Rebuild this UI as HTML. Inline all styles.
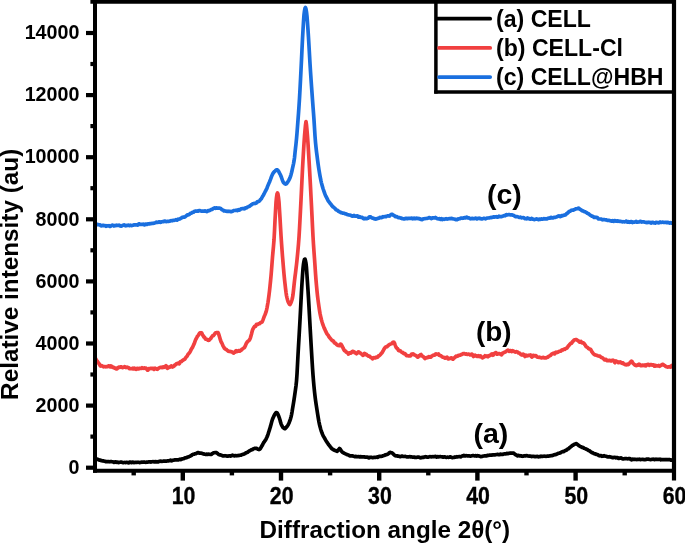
<!DOCTYPE html>
<html><head><meta charset="utf-8"><title>XRD</title>
<style>html,body{margin:0;padding:0;background:#fff;overflow:hidden}svg{display:block;filter:blur(0.45px)}text{font-family:"Liberation Sans",Arial,sans-serif;font-weight:bold;fill:#000}</style></head><body>
<svg width="685" height="543" viewBox="0 0 685 543">
<rect width="685" height="543" fill="#fff"/>
<g fill="none" stroke-width="3.7" stroke-linejoin="round" stroke-linecap="butt">
<path d="M95.0,458.8 L95.5,458.7 L96.0,458.7 L96.5,458.9 L97.0,459.1 L97.5,459.2 L98.0,459.5 L98.5,459.7 L99.0,459.8 L99.5,460.1 L100.0,460.2 L100.5,460.2 L101.0,460.3 L101.5,460.7 L102.0,460.8 L102.5,460.8 L103.0,460.8 L103.5,460.9 L104.0,461.1 L104.5,461.2 L105.0,461.3 L105.5,461.5 L106.0,461.7 L106.5,461.7 L107.0,461.7 L107.5,461.6 L108.0,461.5 L108.5,461.5 L109.0,461.7 L109.5,461.8 L110.0,461.7 L110.5,461.6 L111.0,461.6 L111.5,461.6 L112.0,461.7 L112.5,461.8 L113.0,461.8 L113.5,462.1 L114.0,462.4 L114.5,462.3 L115.0,462.0 L115.5,461.8 L116.0,462.0 L116.5,462.3 L117.0,462.2 L117.5,462.1 L118.0,462.3 L118.5,462.6 L119.0,462.4 L119.5,462.4 L120.0,462.3 L120.5,462.1 L121.0,462.0 L121.5,462.1 L122.0,462.3 L122.5,462.5 L123.0,462.6 L123.5,462.6 L124.0,462.5 L124.5,462.5 L125.0,462.4 L125.5,462.6 L126.0,462.5 L126.5,462.4 L127.0,462.4 L127.5,462.5 L128.0,462.7 L128.5,462.9 L129.0,462.8 L129.5,462.2 L130.0,462.0 L130.5,462.2 L131.0,462.5 L131.5,462.6 L132.0,462.3 L132.5,462.0 L133.0,462.2 L133.5,462.5 L134.0,462.6 L134.5,462.5 L135.0,462.4 L135.5,462.3 L136.0,462.4 L136.5,462.4 L137.0,462.4 L137.5,462.3 L138.0,462.2 L138.5,462.3 L139.0,462.4 L139.5,462.6 L140.0,462.6 L140.5,462.4 L141.0,462.2 L141.5,462.1 L142.0,462.3 L142.5,462.2 L143.0,462.2 L143.5,462.1 L144.0,462.1 L144.5,462.2 L145.0,462.2 L145.5,462.3 L146.0,462.3 L146.5,462.1 L147.0,462.0 L147.5,462.1 L148.0,462.1 L148.5,461.9 L149.0,461.9 L149.5,461.9 L150.0,461.8 L150.5,462.0 L151.0,462.1 L151.5,461.9 L152.0,461.8 L152.5,461.7 L153.0,461.6 L153.5,461.7 L154.0,461.9 L154.5,462.0 L155.0,461.7 L155.5,461.7 L156.0,462.0 L156.5,462.0 L157.0,461.6 L157.5,461.8 L158.0,462.0 L158.5,461.6 L159.0,461.4 L159.5,461.5 L160.0,461.4 L160.5,461.2 L161.0,461.2 L161.5,461.4 L162.0,461.4 L162.5,461.3 L163.0,461.2 L163.5,461.1 L164.0,461.2 L164.5,461.1 L165.0,461.0 L165.5,461.0 L166.0,461.2 L166.5,461.1 L167.0,461.0 L167.5,460.9 L168.0,460.9 L168.5,460.9 L169.0,460.8 L169.5,460.7 L170.0,460.4 L170.5,460.2 L171.0,460.7 L171.5,460.9 L172.0,460.7 L172.5,460.4 L173.0,460.3 L173.5,460.2 L174.0,460.1 L174.5,459.9 L175.0,459.9 L175.5,459.9 L176.0,459.9 L176.5,459.9 L177.0,459.9 L177.5,459.9 L178.0,459.9 L178.5,459.9 L179.0,459.8 L179.5,459.3 L180.0,459.2 L180.5,459.6 L181.0,459.6 L181.5,459.2 L182.0,458.9 L182.5,458.9 L183.0,458.8 L183.5,458.7 L184.0,458.5 L184.5,458.2 L185.0,457.9 L185.5,457.9 L186.0,457.9 L186.5,457.7 L187.0,457.4 L187.5,457.1 L188.0,457.0 L188.5,456.9 L189.0,456.6 L189.5,456.4 L190.0,456.2 L190.5,455.9 L191.0,455.7 L191.5,455.4 L192.0,454.9 L192.5,454.5 L193.0,454.4 L193.5,454.3 L194.0,454.2 L194.5,454.0 L195.0,453.8 L195.5,453.6 L196.0,453.6 L196.5,453.5 L197.0,453.0 L197.5,452.6 L198.0,452.6 L198.5,452.6 L199.0,452.9 L199.5,453.2 L200.0,453.1 L200.5,453.0 L201.0,453.2 L201.5,453.2 L202.0,453.3 L202.5,453.6 L203.0,453.8 L203.5,453.8 L204.0,454.0 L204.5,454.2 L205.0,454.3 L205.5,454.4 L206.0,454.4 L206.5,454.2 L207.0,454.2 L207.5,454.5 L208.0,454.4 L208.5,454.2 L209.0,454.2 L209.5,454.3 L210.0,454.4 L210.5,454.5 L211.0,454.5 L211.5,454.3 L212.0,453.9 L212.5,453.4 L213.0,453.2 L213.5,452.9 L214.0,452.8 L214.5,452.7 L215.0,452.6 L215.5,452.5 L216.0,452.5 L216.5,452.6 L217.0,453.0 L217.5,453.5 L218.0,453.9 L218.5,454.3 L219.0,454.6 L219.5,454.8 L220.0,454.8 L220.5,454.9 L221.0,455.0 L221.5,455.4 L222.0,455.6 L222.5,455.6 L223.0,455.9 L223.5,456.0 L224.0,455.8 L224.5,455.8 L225.0,455.7 L225.5,455.8 L226.0,455.9 L226.5,456.0 L227.0,456.1 L227.5,456.2 L228.0,456.1 L228.5,456.0 L229.0,455.9 L229.5,455.8 L230.0,455.9 L230.5,456.1 L231.0,456.0 L231.5,455.7 L232.0,455.4 L232.5,455.2 L233.0,455.4 L233.5,455.7 L234.0,455.8 L234.5,455.8 L235.0,455.5 L235.5,455.5 L236.0,455.7 L236.5,455.8 L237.0,455.7 L237.5,455.6 L238.0,455.6 L238.5,455.5 L239.0,455.4 L239.5,455.4 L240.0,455.3 L240.5,455.2 L241.0,455.1 L241.5,454.8 L242.0,454.6 L242.5,454.5 L243.0,454.4 L243.5,454.2 L244.0,453.8 L244.5,453.8 L245.0,453.6 L245.5,453.1 L246.0,452.8 L246.5,452.6 L247.0,452.5 L247.5,452.4 L248.0,451.9 L248.5,451.5 L249.0,451.2 L249.5,450.9 L250.0,450.6 L250.5,450.4 L251.0,450.0 L251.5,449.8 L252.0,449.7 L252.5,449.5 L253.0,449.1 L253.5,448.8 L254.0,448.6 L254.5,448.4 L255.0,448.3 L255.5,448.3 L256.0,448.3 L256.5,448.4 L257.0,448.7 L257.5,449.0 L258.0,449.2 L258.5,449.4 L259.0,449.6 L259.5,449.4 L260.0,449.0 L260.5,448.3 L261.0,447.4 L261.5,446.6 L262.0,445.8 L262.5,444.8 L263.0,443.8 L263.5,442.9 L264.0,442.2 L264.5,441.4 L265.0,440.8 L265.5,440.0 L266.0,439.1 L266.5,438.1 L267.0,437.0 L267.5,435.8 L268.0,434.4 L268.5,432.8 L269.0,431.2 L269.5,429.6 L270.0,428.0 L270.5,426.4 L271.0,424.5 L271.5,422.6 L272.0,420.8 L272.5,419.2 L273.0,418.0 L273.5,416.9 L274.0,415.8 L274.5,414.8 L275.0,414.0 L275.5,413.3 L276.0,412.7 L276.5,412.5 L277.0,412.8 L277.5,413.6 L278.0,414.5 L278.5,415.7 L279.0,417.0 L279.5,418.4 L280.0,420.1 L280.5,421.9 L281.0,423.6 L281.5,424.9 L282.0,425.8 L282.5,426.7 L283.0,427.5 L283.5,427.9 L284.0,428.2 L284.5,428.6 L285.0,428.7 L285.5,428.2 L286.0,427.6 L286.5,427.1 L287.0,426.5 L287.5,425.8 L288.0,425.0 L288.5,424.1 L289.0,423.0 L289.5,421.7 L290.0,420.3 L290.5,418.8 L291.0,417.0 L291.5,414.8 L292.0,412.1 L292.5,409.0 L293.0,406.0 L293.5,403.0 L294.0,399.9 L294.5,396.5 L295.0,393.0 L295.5,389.5 L296.0,385.8 L296.5,381.1 L297.0,374.2 L297.5,364.6 L298.0,355.0 L298.5,346.2 L299.0,337.6 L299.5,328.9 L300.0,320.0 L300.5,310.6 L301.0,300.8 L301.5,291.3 L302.0,283.0 L302.5,275.4 L303.0,268.5 L303.5,264.0 L304.0,261.2 L304.5,259.2 L305.0,259.1 L305.5,260.8 L306.0,263.4 L306.5,268.0 L307.0,275.5 L307.5,282.9 L308.0,290.3 L308.5,298.3 L309.0,307.2 L309.5,316.4 L310.0,325.3 L310.5,334.2 L311.0,342.9 L311.5,351.4 L312.0,359.9 L312.5,367.9 L313.0,375.0 L313.5,381.1 L314.0,386.6 L314.5,391.6 L315.0,396.0 L315.5,399.9 L316.0,403.5 L316.5,406.8 L317.0,410.0 L317.5,413.2 L318.0,416.4 L318.5,419.4 L319.0,422.1 L319.5,424.5 L320.0,426.5 L320.5,428.4 L321.0,430.1 L321.5,431.6 L322.0,433.0 L322.5,434.2 L323.0,435.3 L323.5,436.3 L324.0,437.2 L324.5,438.1 L325.0,438.9 L325.5,439.8 L326.0,440.7 L326.5,441.5 L327.0,442.2 L327.5,443.0 L328.0,443.7 L328.5,444.5 L329.0,445.1 L329.5,445.7 L330.0,446.4 L330.5,447.0 L331.0,447.7 L331.5,448.4 L332.0,448.8 L332.5,449.1 L333.0,449.3 L333.5,449.6 L334.0,450.1 L334.5,450.3 L335.0,450.5 L335.5,450.6 L336.0,450.7 L336.5,451.1 L337.0,451.3 L337.5,451.0 L338.0,450.4 L338.5,449.7 L339.0,449.1 L339.5,448.5 L340.0,448.8 L340.5,449.5 L341.0,450.5 L341.5,451.3 L342.0,451.8 L342.5,452.2 L343.0,452.6 L343.5,452.8 L344.0,453.1 L344.5,453.4 L345.0,453.6 L345.5,453.9 L346.0,454.1 L346.5,454.3 L347.0,454.6 L347.5,454.8 L348.0,454.9 L348.5,455.1 L349.0,455.3 L349.5,455.6 L350.0,455.9 L350.5,455.9 L351.0,455.8 L351.5,455.8 L352.0,456.0 L352.5,455.9 L353.0,456.0 L353.5,456.2 L354.0,456.4 L354.5,456.6 L355.0,456.6 L355.5,456.3 L356.0,456.5 L356.5,456.7 L357.0,456.8 L357.5,456.7 L358.0,456.7 L358.5,456.5 L359.0,456.7 L359.5,457.0 L360.0,456.9 L360.5,456.6 L361.0,456.6 L361.5,456.8 L362.0,456.8 L362.5,456.8 L363.0,457.0 L363.5,456.9 L364.0,456.8 L364.5,457.0 L365.0,457.1 L365.5,457.0 L366.0,457.1 L366.5,457.2 L367.0,457.0 L367.5,457.0 L368.0,457.4 L368.5,457.8 L369.0,457.8 L369.5,457.5 L370.0,457.3 L370.5,457.4 L371.0,457.5 L371.5,457.4 L372.0,457.5 L372.5,457.6 L373.0,457.6 L373.5,457.5 L374.0,457.4 L374.5,457.3 L375.0,457.4 L375.5,457.3 L376.0,457.3 L376.5,457.1 L377.0,457.0 L377.5,457.4 L378.0,457.1 L378.5,456.6 L379.0,456.4 L379.5,456.4 L380.0,456.4 L380.5,456.4 L381.0,456.4 L381.5,456.4 L382.0,456.2 L382.5,456.0 L383.0,455.8 L383.5,455.6 L384.0,455.5 L384.5,455.5 L385.0,455.2 L385.5,454.8 L386.0,454.6 L386.5,454.6 L387.0,454.5 L387.5,454.3 L388.0,454.0 L388.5,453.6 L389.0,453.1 L389.5,452.6 L390.0,452.4 L390.5,452.4 L391.0,452.6 L391.5,452.8 L392.0,452.9 L392.5,453.3 L393.0,453.8 L393.5,454.2 L394.0,454.7 L394.5,455.2 L395.0,455.5 L395.5,455.8 L396.0,455.9 L396.5,455.8 L397.0,455.8 L397.5,456.0 L398.0,456.2 L398.5,456.1 L399.0,456.2 L399.5,456.5 L400.0,456.6 L400.5,456.6 L401.0,456.5 L401.5,456.2 L402.0,456.0 L402.5,456.2 L403.0,456.5 L403.5,456.5 L404.0,456.5 L404.5,456.5 L405.0,456.4 L405.5,456.4 L406.0,456.6 L406.5,456.8 L407.0,456.8 L407.5,456.9 L408.0,456.9 L408.5,456.9 L409.0,456.8 L409.5,456.6 L410.0,456.6 L410.5,456.9 L411.0,457.0 L411.5,456.9 L412.0,457.0 L412.5,457.1 L413.0,457.1 L413.5,457.1 L414.0,457.0 L414.5,457.1 L415.0,457.5 L415.5,457.4 L416.0,457.3 L416.5,457.3 L417.0,457.3 L417.5,457.2 L418.0,457.0 L418.5,457.0 L419.0,457.2 L419.5,457.4 L420.0,457.7 L420.5,457.8 L421.0,457.8 L421.5,457.7 L422.0,457.4 L422.5,457.4 L423.0,457.5 L423.5,457.4 L424.0,457.1 L424.5,457.0 L425.0,456.9 L425.5,456.7 L426.0,456.8 L426.5,457.0 L427.0,457.1 L427.5,457.0 L428.0,457.0 L428.5,457.1 L429.0,456.9 L429.5,456.7 L430.0,456.6 L430.5,456.7 L431.0,456.9 L431.5,456.9 L432.0,456.7 L432.5,456.7 L433.0,456.8 L433.5,456.7 L434.0,456.7 L434.5,456.7 L435.0,456.6 L435.5,456.4 L436.0,456.5 L436.5,457.1 L437.0,457.0 L437.5,456.6 L438.0,456.6 L438.5,456.9 L439.0,456.9 L439.5,456.7 L440.0,456.6 L440.5,456.6 L441.0,456.7 L441.5,456.8 L442.0,456.8 L442.5,456.9 L443.0,457.2 L443.5,457.1 L444.0,456.9 L444.5,456.8 L445.0,457.0 L445.5,457.2 L446.0,457.4 L446.5,457.4 L447.0,457.3 L447.5,457.1 L448.0,457.2 L448.5,457.4 L449.0,457.3 L449.5,457.0 L450.0,456.9 L450.5,456.9 L451.0,457.2 L451.5,457.4 L452.0,457.6 L452.5,457.6 L453.0,457.5 L453.5,457.5 L454.0,457.4 L454.5,457.1 L455.0,456.9 L455.5,457.1 L456.0,457.1 L456.5,456.9 L457.0,456.7 L457.5,456.8 L458.0,456.8 L458.5,456.7 L459.0,456.6 L459.5,456.7 L460.0,456.7 L460.5,456.8 L461.0,456.8 L461.5,456.3 L462.0,456.0 L462.5,455.9 L463.0,456.0 L463.5,455.7 L464.0,455.4 L464.5,455.6 L465.0,456.0 L465.5,456.0 L466.0,455.7 L466.5,455.7 L467.0,455.8 L467.5,455.8 L468.0,455.9 L468.5,456.0 L469.0,455.9 L469.5,455.9 L470.0,456.1 L470.5,456.1 L471.0,456.0 L471.5,455.9 L472.0,455.8 L472.5,455.7 L473.0,455.5 L473.5,455.6 L474.0,455.7 L474.5,455.9 L475.0,456.0 L475.5,455.6 L476.0,455.7 L476.5,456.1 L477.0,455.9 L477.5,455.6 L478.0,455.9 L478.5,456.0 L479.0,455.9 L479.5,456.1 L480.0,456.4 L480.5,456.6 L481.0,456.6 L481.5,456.5 L482.0,456.5 L482.5,456.3 L483.0,456.0 L483.5,456.0 L484.0,456.0 L484.5,455.9 L485.0,455.9 L485.5,455.8 L486.0,455.7 L486.5,455.9 L487.0,455.8 L487.5,455.4 L488.0,455.3 L488.5,455.4 L489.0,455.4 L489.5,455.2 L490.0,455.0 L490.5,455.1 L491.0,455.2 L491.5,455.2 L492.0,455.1 L492.5,454.9 L493.0,454.9 L493.5,454.9 L494.0,454.9 L494.5,454.8 L495.0,454.9 L495.5,454.8 L496.0,454.5 L496.5,454.5 L497.0,454.5 L497.5,454.4 L498.0,454.5 L498.5,454.7 L499.0,454.7 L499.5,454.6 L500.0,454.3 L500.5,454.1 L501.0,454.2 L501.5,454.3 L502.0,454.5 L502.5,454.5 L503.0,454.3 L503.5,454.1 L504.0,453.9 L504.5,453.9 L505.0,454.0 L505.5,454.0 L506.0,453.8 L506.5,453.5 L507.0,453.4 L507.5,453.5 L508.0,453.6 L508.5,453.5 L509.0,453.3 L509.5,453.2 L510.0,453.2 L510.5,453.2 L511.0,453.1 L511.5,453.1 L512.0,453.1 L512.5,453.1 L513.0,453.0 L513.5,453.1 L514.0,453.4 L514.5,453.9 L515.0,454.3 L515.5,454.7 L516.0,455.0 L516.5,455.1 L517.0,455.5 L517.5,455.8 L518.0,455.5 L518.5,455.3 L519.0,455.6 L519.5,455.8 L520.0,455.8 L520.5,455.7 L521.0,455.8 L521.5,456.0 L522.0,456.2 L522.5,456.3 L523.0,456.2 L523.5,456.0 L524.0,455.9 L524.5,455.8 L525.0,455.7 L525.5,455.9 L526.0,455.9 L526.5,455.7 L527.0,455.7 L527.5,455.9 L528.0,456.0 L528.5,456.0 L529.0,456.1 L529.5,456.2 L530.0,456.2 L530.5,456.1 L531.0,456.4 L531.5,456.6 L532.0,456.4 L532.5,456.4 L533.0,456.4 L533.5,456.3 L534.0,456.4 L534.5,456.6 L535.0,456.6 L535.5,456.7 L536.0,456.6 L536.5,456.5 L537.0,456.4 L537.5,456.4 L538.0,456.6 L538.5,456.9 L539.0,456.7 L539.5,456.5 L540.0,456.6 L540.5,456.3 L541.0,456.1 L541.5,456.3 L542.0,456.4 L542.5,456.4 L543.0,456.3 L543.5,456.2 L544.0,456.3 L544.5,456.2 L545.0,456.2 L545.5,456.3 L546.0,456.4 L546.5,456.3 L547.0,456.1 L547.5,456.1 L548.0,456.2 L548.5,456.1 L549.0,456.1 L549.5,455.9 L550.0,455.9 L550.5,455.8 L551.0,455.5 L551.5,455.5 L552.0,455.6 L552.5,455.5 L553.0,455.3 L553.5,455.1 L554.0,454.8 L554.5,454.7 L555.0,454.7 L555.5,454.6 L556.0,454.5 L556.5,454.3 L557.0,453.9 L557.5,453.7 L558.0,453.5 L558.5,453.3 L559.0,453.2 L559.5,453.1 L560.0,453.0 L560.5,452.8 L561.0,452.4 L561.5,452.1 L562.0,451.9 L562.5,451.6 L563.0,451.7 L563.5,451.6 L564.0,451.3 L564.5,451.0 L565.0,450.7 L565.5,450.5 L566.0,450.3 L566.5,450.1 L567.0,449.6 L567.5,449.1 L568.0,448.9 L568.5,448.8 L569.0,448.4 L569.5,447.8 L570.0,447.4 L570.5,447.0 L571.0,446.6 L571.5,446.2 L572.0,445.7 L572.5,445.4 L573.0,445.2 L573.5,444.8 L574.0,444.5 L574.5,444.3 L575.0,444.0 L575.5,443.9 L576.0,443.7 L576.5,443.7 L577.0,444.1 L577.5,444.5 L578.0,444.9 L578.5,445.3 L579.0,445.7 L579.5,446.0 L580.0,446.4 L580.5,446.6 L581.0,446.7 L581.5,446.9 L582.0,447.4 L582.5,447.5 L583.0,447.4 L583.5,447.8 L584.0,448.2 L584.5,448.4 L585.0,448.6 L585.5,448.8 L586.0,449.0 L586.5,449.3 L587.0,449.5 L587.5,449.7 L588.0,450.1 L588.5,450.4 L589.0,450.5 L589.5,450.8 L590.0,451.2 L590.5,451.6 L591.0,452.0 L591.5,452.4 L592.0,452.7 L592.5,452.8 L593.0,452.9 L593.5,453.3 L594.0,453.6 L594.5,453.8 L595.0,453.8 L595.5,453.9 L596.0,454.3 L596.5,454.5 L597.0,454.5 L597.5,454.6 L598.0,454.9 L598.5,455.3 L599.0,455.6 L599.5,455.8 L600.0,455.7 L600.5,455.5 L601.0,455.6 L601.5,456.1 L602.0,456.3 L602.5,456.2 L603.0,456.1 L603.5,455.8 L604.0,455.7 L604.5,455.9 L605.0,456.1 L605.5,456.2 L606.0,456.3 L606.5,456.4 L607.0,456.7 L607.5,456.9 L608.0,456.9 L608.5,457.0 L609.0,456.8 L609.5,456.7 L610.0,456.9 L610.5,457.0 L611.0,457.1 L611.5,457.2 L612.0,457.3 L612.5,457.6 L613.0,457.7 L613.5,457.5 L614.0,457.4 L614.5,457.4 L615.0,457.3 L615.5,457.6 L616.0,457.9 L616.5,457.7 L617.0,457.5 L617.5,457.6 L618.0,458.1 L618.5,458.4 L619.0,458.4 L619.5,458.1 L620.0,458.0 L620.5,458.0 L621.0,457.9 L621.5,458.2 L622.0,458.6 L622.5,458.8 L623.0,458.8 L623.5,458.8 L624.0,458.8 L624.5,458.6 L625.0,458.6 L625.5,458.7 L626.0,458.7 L626.5,458.7 L627.0,458.7 L627.5,458.8 L628.0,458.8 L628.5,458.6 L629.0,458.7 L629.5,458.6 L630.0,458.6 L630.5,459.1 L631.0,459.6 L631.5,459.8 L632.0,459.5 L632.5,459.2 L633.0,459.4 L633.5,459.3 L634.0,459.1 L634.5,459.3 L635.0,459.5 L635.5,459.4 L636.0,459.4 L636.5,459.5 L637.0,459.6 L637.5,459.4 L638.0,459.3 L638.5,459.4 L639.0,459.3 L639.5,459.2 L640.0,459.5 L640.5,459.6 L641.0,459.5 L641.5,459.5 L642.0,459.4 L642.5,459.3 L643.0,459.4 L643.5,459.5 L644.0,459.6 L644.5,459.5 L645.0,459.6 L645.5,459.6 L646.0,459.2 L646.5,459.1 L647.0,459.3 L647.5,459.2 L648.0,459.0 L648.5,459.1 L649.0,459.3 L649.5,459.5 L650.0,459.5 L650.5,459.6 L651.0,459.6 L651.5,459.4 L652.0,459.4 L652.5,459.3 L653.0,459.1 L653.5,459.2 L654.0,459.5 L654.5,459.6 L655.0,459.5 L655.5,459.3 L656.0,459.1 L656.5,459.3 L657.0,459.5 L657.5,459.4 L658.0,459.3 L658.5,459.4 L659.0,459.5 L659.5,459.3 L660.0,459.1 L660.5,459.5 L661.0,459.8 L661.5,459.7 L662.0,459.5 L662.5,459.5 L663.0,459.5 L663.5,459.6 L664.0,459.6 L664.5,459.6 L665.0,459.5 L665.5,459.6 L666.0,459.7 L666.5,459.6 L667.0,459.5 L667.5,459.6 L668.0,459.6 L668.5,459.5 L669.0,459.6 L669.5,459.7 L670.0,459.7 L670.5,459.8 L671.0,460.1 L671.5,460.2 L672.0,460.1 L672.5,460.0 L673.0,460.0" stroke="#000"/>
<path d="M95.0,357.9 L95.5,358.5 L96.0,359.3 L96.5,360.2 L97.0,360.7 L97.5,361.5 L98.0,362.4 L98.5,363.0 L99.0,363.6 L99.5,364.3 L100.0,365.3 L100.5,366.0 L101.0,365.7 L101.5,365.5 L102.0,365.9 L102.5,366.1 L103.0,366.5 L103.5,366.9 L104.0,366.7 L104.5,366.5 L105.0,366.6 L105.5,366.8 L106.0,366.9 L106.5,366.5 L107.0,366.6 L107.5,366.6 L108.0,366.3 L108.5,365.9 L109.0,365.8 L109.5,366.1 L110.0,366.8 L110.5,366.8 L111.0,365.9 L111.5,366.1 L112.0,367.0 L112.5,367.4 L113.0,367.3 L113.5,367.2 L114.0,367.7 L114.5,368.1 L115.0,368.3 L115.5,368.2 L116.0,368.1 L116.5,368.9 L117.0,368.9 L117.5,368.2 L118.0,367.8 L118.5,367.4 L119.0,367.0 L119.5,367.1 L120.0,367.4 L120.5,367.0 L121.0,366.8 L121.5,367.0 L122.0,367.5 L122.5,367.6 L123.0,367.3 L123.5,367.4 L124.0,367.2 L124.5,366.6 L125.0,366.9 L125.5,367.4 L126.0,367.6 L126.5,367.4 L127.0,367.1 L127.5,367.4 L128.0,367.5 L128.5,367.5 L129.0,368.3 L129.5,368.6 L130.0,368.5 L130.5,368.7 L131.0,368.7 L131.5,368.5 L132.0,368.7 L132.5,368.8 L133.0,368.2 L133.5,368.5 L134.0,368.8 L134.5,368.2 L135.0,368.4 L135.5,369.0 L136.0,369.4 L136.5,369.3 L137.0,368.5 L137.5,368.3 L138.0,369.0 L138.5,369.0 L139.0,368.4 L139.5,368.4 L140.0,368.5 L140.5,368.4 L141.0,368.5 L141.5,368.3 L142.0,367.8 L142.5,368.2 L143.0,368.4 L143.5,368.3 L144.0,368.1 L144.5,367.8 L145.0,368.4 L145.5,368.6 L146.0,368.2 L146.5,368.5 L147.0,369.1 L147.5,370.1 L148.0,370.2 L148.5,369.3 L149.0,368.6 L149.5,368.5 L150.0,368.6 L150.5,368.5 L151.0,368.3 L151.5,368.5 L152.0,368.6 L152.5,368.5 L153.0,368.3 L153.5,368.9 L154.0,369.4 L154.5,368.5 L155.0,368.1 L155.5,368.6 L156.0,368.7 L156.5,368.8 L157.0,369.2 L157.5,369.3 L158.0,368.8 L158.5,368.3 L159.0,368.1 L159.5,367.7 L160.0,367.5 L160.5,367.4 L161.0,367.3 L161.5,367.5 L162.0,367.6 L162.5,367.3 L163.0,366.9 L163.5,367.2 L164.0,367.4 L164.5,366.8 L165.0,366.3 L165.5,366.2 L166.0,365.7 L166.5,366.3 L167.0,368.0 L167.5,368.4 L168.0,367.7 L168.5,367.2 L169.0,367.1 L169.5,367.3 L170.0,367.1 L170.5,366.8 L171.0,366.2 L171.5,365.9 L172.0,366.5 L172.5,367.0 L173.0,366.7 L173.5,366.5 L174.0,366.2 L174.5,365.4 L175.0,364.9 L175.5,364.8 L176.0,364.2 L176.5,363.6 L177.0,363.6 L177.5,363.6 L178.0,363.2 L178.5,363.5 L179.0,363.9 L179.5,363.4 L180.0,362.3 L180.5,361.5 L181.0,361.5 L181.5,361.5 L182.0,360.9 L182.5,360.5 L183.0,360.3 L183.5,359.9 L184.0,359.5 L184.5,359.4 L185.0,358.9 L185.5,358.0 L186.0,357.3 L186.5,356.8 L187.0,356.3 L187.5,355.4 L188.0,354.4 L188.5,353.8 L189.0,353.3 L189.5,352.7 L190.0,352.0 L190.5,351.0 L191.0,349.8 L191.5,348.8 L192.0,348.1 L192.5,347.4 L193.0,346.3 L193.5,345.2 L194.0,344.2 L194.5,342.8 L195.0,341.4 L195.5,340.1 L196.0,339.0 L196.5,338.1 L197.0,337.2 L197.5,336.2 L198.0,335.7 L198.5,335.0 L199.0,334.1 L199.5,333.4 L200.0,332.9 L200.5,332.8 L201.0,332.7 L201.5,332.8 L202.0,333.6 L202.5,334.6 L203.0,335.5 L203.5,336.4 L204.0,337.1 L204.5,337.3 L205.0,338.1 L205.5,339.0 L206.0,339.2 L206.5,339.2 L207.0,339.4 L207.5,339.7 L208.0,340.3 L208.5,340.4 L209.0,340.2 L209.5,339.8 L210.0,339.3 L210.5,338.8 L211.0,338.1 L211.5,337.2 L212.0,336.6 L212.5,335.9 L213.0,335.6 L213.5,335.5 L214.0,334.9 L214.5,334.2 L215.0,333.5 L215.5,332.9 L216.0,332.8 L216.5,332.6 L217.0,332.5 L217.5,332.5 L218.0,332.6 L218.5,333.6 L219.0,335.1 L219.5,336.7 L220.0,338.5 L220.5,340.2 L221.0,341.6 L221.5,342.5 L222.0,343.4 L222.5,344.6 L223.0,345.8 L223.5,346.7 L224.0,347.6 L224.5,348.4 L225.0,348.8 L225.5,349.1 L226.0,349.3 L226.5,349.6 L227.0,350.1 L227.5,350.5 L228.0,351.0 L228.5,351.3 L229.0,351.4 L229.5,351.3 L230.0,351.3 L230.5,351.6 L231.0,351.6 L231.5,351.7 L232.0,351.9 L232.5,352.3 L233.0,352.9 L233.5,353.1 L234.0,352.6 L234.5,352.4 L235.0,352.2 L235.5,351.2 L236.0,350.8 L236.5,351.4 L237.0,351.6 L237.5,351.4 L238.0,351.1 L238.5,350.5 L239.0,350.6 L239.5,351.2 L240.0,351.0 L240.5,350.6 L241.0,350.4 L241.5,349.7 L242.0,349.3 L242.5,349.0 L243.0,348.5 L243.5,348.1 L244.0,347.9 L244.5,347.4 L245.0,346.6 L245.5,345.5 L246.0,344.1 L246.5,343.1 L247.0,342.4 L247.5,341.7 L248.0,341.1 L248.5,340.9 L249.0,340.5 L249.5,339.8 L250.0,338.9 L250.5,337.6 L251.0,335.8 L251.5,334.0 L252.0,331.9 L252.5,330.1 L253.0,328.8 L253.5,328.1 L254.0,327.3 L254.5,326.5 L255.0,326.3 L255.5,326.4 L256.0,325.4 L256.5,324.4 L257.0,324.4 L257.5,324.5 L258.0,324.3 L258.5,323.8 L259.0,323.5 L259.5,323.7 L260.0,323.2 L260.5,322.5 L261.0,322.5 L261.5,322.4 L262.0,322.0 L262.5,321.1 L263.0,319.9 L263.5,318.5 L264.0,317.1 L264.5,315.8 L265.0,314.7 L265.5,313.5 L266.0,312.1 L266.5,310.2 L267.0,307.8 L267.5,305.1 L268.0,302.2 L268.5,298.8 L269.0,295.1 L269.5,290.9 L270.0,286.3 L270.5,281.3 L271.0,276.1 L271.5,270.1 L272.0,263.6 L272.5,257.2 L273.0,251.5 L273.5,246.2 L274.0,240.0 L274.5,231.1 L275.0,220.7 L275.5,211.4 L276.0,202.5 L276.5,197.4 L277.0,194.0 L277.5,192.9 L278.0,194.2 L278.5,197.5 L279.0,202.2 L279.5,210.1 L280.0,218.2 L280.5,226.8 L281.0,235.3 L281.5,242.9 L282.0,249.9 L282.5,256.3 L283.0,262.4 L283.5,268.4 L284.0,274.1 L284.5,279.2 L285.0,283.7 L285.5,288.2 L286.0,292.3 L286.5,295.6 L287.0,297.9 L287.5,299.8 L288.0,301.5 L288.5,302.6 L289.0,303.4 L289.5,304.3 L290.0,304.5 L290.5,303.6 L291.0,302.6 L291.5,301.3 L292.0,299.7 L292.5,297.7 L293.0,294.6 L293.5,290.3 L294.0,285.5 L294.5,280.9 L295.0,276.8 L295.5,272.9 L296.0,268.8 L296.5,264.6 L297.0,260.0 L297.5,255.0 L298.0,249.7 L298.5,243.9 L299.0,237.1 L299.5,228.8 L300.0,219.5 L300.5,209.9 L301.0,200.2 L301.5,189.8 L302.0,179.4 L302.5,169.2 L303.0,160.0 L303.5,151.4 L304.0,143.3 L304.5,136.4 L305.0,130.5 L305.5,124.9 L306.0,121.5 L306.5,124.9 L307.0,130.5 L307.5,136.3 L308.0,143.4 L308.5,151.6 L309.0,160.0 L309.5,168.6 L310.0,177.6 L310.5,186.9 L311.0,196.5 L311.5,206.1 L312.0,216.1 L312.5,226.6 L313.0,236.5 L313.5,244.7 L314.0,251.8 L314.5,258.6 L315.0,265.9 L315.5,273.4 L316.0,280.0 L316.5,285.7 L317.0,291.0 L317.5,295.7 L318.0,299.9 L318.5,303.6 L319.0,307.1 L319.5,310.4 L320.0,313.4 L320.5,315.8 L321.0,318.0 L321.5,320.0 L322.0,321.8 L322.5,323.4 L323.0,324.8 L323.5,326.2 L324.0,327.5 L324.5,328.7 L325.0,329.7 L325.5,330.9 L326.0,331.9 L326.5,332.9 L327.0,333.9 L327.5,334.5 L328.0,335.0 L328.5,335.8 L329.0,336.8 L329.5,337.6 L330.0,338.0 L330.5,338.6 L331.0,339.2 L331.5,339.7 L332.0,340.4 L332.5,340.8 L333.0,340.7 L333.5,341.1 L334.0,342.1 L334.5,342.8 L335.0,343.1 L335.5,343.1 L336.0,343.7 L336.5,344.5 L337.0,344.8 L337.5,345.1 L338.0,345.4 L338.5,345.4 L339.0,345.6 L339.5,345.7 L340.0,344.9 L340.5,344.1 L341.0,344.2 L341.5,345.1 L342.0,345.8 L342.5,346.8 L343.0,347.9 L343.5,348.9 L344.0,349.9 L344.5,350.6 L345.0,350.8 L345.5,351.1 L346.0,351.9 L346.5,352.3 L347.0,352.4 L347.5,352.8 L348.0,353.4 L348.5,354.1 L349.0,353.5 L349.5,352.8 L350.0,353.0 L350.5,353.1 L351.0,353.1 L351.5,352.5 L352.0,351.6 L352.5,351.4 L353.0,351.3 L353.5,351.6 L354.0,351.9 L354.5,352.2 L355.0,352.9 L355.5,353.1 L356.0,353.2 L356.5,353.7 L357.0,353.2 L357.5,352.6 L358.0,352.2 L358.5,351.8 L359.0,352.1 L359.5,352.6 L360.0,352.9 L360.5,353.2 L361.0,353.6 L361.5,354.0 L362.0,354.3 L362.5,355.0 L363.0,355.4 L363.5,354.8 L364.0,354.1 L364.5,353.4 L365.0,353.6 L365.5,354.6 L366.0,354.4 L366.5,354.4 L367.0,355.0 L367.5,355.5 L368.0,355.9 L368.5,356.2 L369.0,356.0 L369.5,356.0 L370.0,356.7 L370.5,357.2 L371.0,357.4 L371.5,357.6 L372.0,358.2 L372.5,358.8 L373.0,358.2 L373.5,357.7 L374.0,357.8 L374.5,357.7 L375.0,358.0 L375.5,357.9 L376.0,357.4 L376.5,357.0 L377.0,357.2 L377.5,357.3 L378.0,356.8 L378.5,355.9 L379.0,355.5 L379.5,355.5 L380.0,355.0 L380.5,354.4 L381.0,353.9 L381.5,353.3 L382.0,352.7 L382.5,351.9 L383.0,351.0 L383.5,350.1 L384.0,349.1 L384.5,348.4 L385.0,347.7 L385.5,347.1 L386.0,346.7 L386.5,346.6 L387.0,346.7 L387.5,346.1 L388.0,345.7 L388.5,345.3 L389.0,344.8 L389.5,344.5 L390.0,344.3 L390.5,344.1 L391.0,343.9 L391.5,343.7 L392.0,343.3 L392.5,342.7 L393.0,342.3 L393.5,342.1 L394.0,342.3 L394.5,343.2 L395.0,344.6 L395.5,345.9 L396.0,347.1 L396.5,347.9 L397.0,348.3 L397.5,348.6 L398.0,349.5 L398.5,350.4 L399.0,350.7 L399.5,350.6 L400.0,350.6 L400.5,351.0 L401.0,351.6 L401.5,352.0 L402.0,352.3 L402.5,352.3 L403.0,352.7 L403.5,353.3 L404.0,353.6 L404.5,353.6 L405.0,353.6 L405.5,354.3 L406.0,355.1 L406.5,355.5 L407.0,355.7 L407.5,355.6 L408.0,355.7 L408.5,356.0 L409.0,355.9 L409.5,355.8 L410.0,355.8 L410.5,355.9 L411.0,355.2 L411.5,354.2 L412.0,354.0 L412.5,354.1 L413.0,353.8 L413.5,354.1 L414.0,354.7 L414.5,355.0 L415.0,355.1 L415.5,355.2 L416.0,355.7 L416.5,356.2 L417.0,356.3 L417.5,357.1 L418.0,357.1 L418.5,356.1 L419.0,355.7 L419.5,356.0 L420.0,355.7 L420.5,354.8 L421.0,354.5 L421.5,355.2 L422.0,355.8 L422.5,356.2 L423.0,356.5 L423.5,356.9 L424.0,357.4 L424.5,357.9 L425.0,358.6 L425.5,358.4 L426.0,357.8 L426.5,357.6 L427.0,357.7 L427.5,357.7 L428.0,357.2 L428.5,356.7 L429.0,356.6 L429.5,356.8 L430.0,357.1 L430.5,357.2 L431.0,357.0 L431.5,356.3 L432.0,355.8 L432.5,355.7 L433.0,355.4 L433.5,355.1 L434.0,355.1 L434.5,355.2 L435.0,354.9 L435.5,354.1 L436.0,353.8 L436.5,354.1 L437.0,354.3 L437.5,354.4 L438.0,354.2 L438.5,354.0 L439.0,354.6 L439.5,355.4 L440.0,355.6 L440.5,355.6 L441.0,355.8 L441.5,356.3 L442.0,356.8 L442.5,357.0 L443.0,357.2 L443.5,357.3 L444.0,357.3 L444.5,357.9 L445.0,358.2 L445.5,357.7 L446.0,357.6 L446.5,357.4 L447.0,357.2 L447.5,357.9 L448.0,358.8 L448.5,359.0 L449.0,358.6 L449.5,358.4 L450.0,358.4 L450.5,358.4 L451.0,358.0 L451.5,357.8 L452.0,358.3 L452.5,359.0 L453.0,359.2 L453.5,358.7 L454.0,358.0 L454.5,357.8 L455.0,357.4 L455.5,356.7 L456.0,356.1 L456.5,356.2 L457.0,356.4 L457.5,356.2 L458.0,355.7 L458.5,355.4 L459.0,355.4 L459.5,355.4 L460.0,355.2 L460.5,355.0 L461.0,354.6 L461.5,354.3 L462.0,354.4 L462.5,354.1 L463.0,353.5 L463.5,353.6 L464.0,353.7 L464.5,353.7 L465.0,354.0 L465.5,354.1 L466.0,354.0 L466.5,353.9 L467.0,354.3 L467.5,354.5 L468.0,354.2 L468.5,354.1 L469.0,354.2 L469.5,354.5 L470.0,354.8 L470.5,354.8 L471.0,354.6 L471.5,354.2 L472.0,354.2 L472.5,354.8 L473.0,355.8 L473.5,356.5 L474.0,356.2 L474.5,355.3 L475.0,355.1 L475.5,355.8 L476.0,356.0 L476.5,355.9 L477.0,356.4 L477.5,356.5 L478.0,355.8 L478.5,355.7 L479.0,356.4 L479.5,356.6 L480.0,356.2 L480.5,355.9 L481.0,356.4 L481.5,357.1 L482.0,357.5 L482.5,357.8 L483.0,357.5 L483.5,357.1 L484.0,357.1 L484.5,356.5 L485.0,355.8 L485.5,356.1 L486.0,356.4 L486.5,356.1 L487.0,355.9 L487.5,356.3 L488.0,356.8 L488.5,356.2 L489.0,355.6 L489.5,355.6 L490.0,355.6 L490.5,355.2 L491.0,354.5 L491.5,354.1 L492.0,353.8 L492.5,354.3 L493.0,355.2 L493.5,354.8 L494.0,353.8 L494.5,353.2 L495.0,353.1 L495.5,352.7 L496.0,352.7 L496.5,353.7 L497.0,354.2 L497.5,354.2 L498.0,353.9 L498.5,353.5 L499.0,353.7 L499.5,353.6 L500.0,353.7 L500.5,354.2 L501.0,354.6 L501.5,354.8 L502.0,354.1 L502.5,353.2 L503.0,353.0 L503.5,352.9 L504.0,352.5 L504.5,352.1 L505.0,352.1 L505.5,352.0 L506.0,351.5 L506.5,351.0 L507.0,350.7 L507.5,350.2 L508.0,350.1 L508.5,350.8 L509.0,351.3 L509.5,351.0 L510.0,350.5 L510.5,350.6 L511.0,351.2 L511.5,351.6 L512.0,351.1 L512.5,350.7 L513.0,351.0 L513.5,351.1 L514.0,351.2 L514.5,351.7 L515.0,352.0 L515.5,352.1 L516.0,351.9 L516.5,351.6 L517.0,351.7 L517.5,352.1 L518.0,352.4 L518.5,353.0 L519.0,353.0 L519.5,353.1 L520.0,353.6 L520.5,354.1 L521.0,354.4 L521.5,354.9 L522.0,355.1 L522.5,354.7 L523.0,354.1 L523.5,354.2 L524.0,354.7 L524.5,355.8 L525.0,356.5 L525.5,355.6 L526.0,355.1 L526.5,355.7 L527.0,355.9 L527.5,355.6 L528.0,355.7 L528.5,355.4 L529.0,355.2 L529.5,355.5 L530.0,355.3 L530.5,355.0 L531.0,355.6 L531.5,356.7 L532.0,357.1 L532.5,356.5 L533.0,355.5 L533.5,355.3 L534.0,355.7 L534.5,356.0 L535.0,355.9 L535.5,355.7 L536.0,355.7 L536.5,356.1 L537.0,356.9 L537.5,357.2 L538.0,357.0 L538.5,357.3 L539.0,357.4 L539.5,357.2 L540.0,357.4 L540.5,357.6 L541.0,357.6 L541.5,357.9 L542.0,357.9 L542.5,357.7 L543.0,357.5 L543.5,357.3 L544.0,357.8 L544.5,358.0 L545.0,357.8 L545.5,357.9 L546.0,357.9 L546.5,357.6 L547.0,357.3 L547.5,357.2 L548.0,357.1 L548.5,356.5 L549.0,356.1 L549.5,355.9 L550.0,355.7 L550.5,355.4 L551.0,354.9 L551.5,354.3 L552.0,353.9 L552.5,353.8 L553.0,353.5 L553.5,353.2 L554.0,353.6 L554.5,353.9 L555.0,353.2 L555.5,352.4 L556.0,352.2 L556.5,352.5 L557.0,352.6 L557.5,352.4 L558.0,352.1 L558.5,351.6 L559.0,351.4 L559.5,351.4 L560.0,351.2 L560.5,351.2 L561.0,351.0 L561.5,350.4 L562.0,349.9 L562.5,349.9 L563.0,350.0 L563.5,349.5 L564.0,349.1 L564.5,349.2 L565.0,349.3 L565.5,348.8 L566.0,348.3 L566.5,348.2 L567.0,348.0 L567.5,347.2 L568.0,346.4 L568.5,345.9 L569.0,345.4 L569.5,344.8 L570.0,344.1 L570.5,343.5 L571.0,343.2 L571.5,343.2 L572.0,342.6 L572.5,341.6 L573.0,341.2 L573.5,340.8 L574.0,340.1 L574.5,339.8 L575.0,339.8 L575.5,339.7 L576.0,339.5 L576.5,339.6 L577.0,340.0 L577.5,340.5 L578.0,340.6 L578.5,341.0 L579.0,341.6 L579.5,342.0 L580.0,342.2 L580.5,341.7 L581.0,341.4 L581.5,342.3 L582.0,343.0 L582.5,343.0 L583.0,342.8 L583.5,343.0 L584.0,343.4 L584.5,344.1 L585.0,344.8 L585.5,345.6 L586.0,346.4 L586.5,346.9 L587.0,347.1 L587.5,347.5 L588.0,347.9 L588.5,348.5 L589.0,348.9 L589.5,349.0 L590.0,349.1 L590.5,349.2 L591.0,350.0 L591.5,351.1 L592.0,351.9 L592.5,352.5 L593.0,353.3 L593.5,353.8 L594.0,354.2 L594.5,354.6 L595.0,354.9 L595.5,355.0 L596.0,355.1 L596.5,355.2 L597.0,355.4 L597.5,355.7 L598.0,355.9 L598.5,356.0 L599.0,356.1 L599.5,356.0 L600.0,356.2 L600.5,356.7 L601.0,357.2 L601.5,357.6 L602.0,357.6 L602.5,357.7 L603.0,358.2 L603.5,358.7 L604.0,359.2 L604.5,359.9 L605.0,359.9 L605.5,359.4 L606.0,359.4 L606.5,360.1 L607.0,360.6 L607.5,360.7 L608.0,360.7 L608.5,360.7 L609.0,360.4 L609.5,360.4 L610.0,360.5 L610.5,360.7 L611.0,361.0 L611.5,360.6 L612.0,360.3 L612.5,360.4 L613.0,360.2 L613.5,360.4 L614.0,361.2 L614.5,362.2 L615.0,362.7 L615.5,361.7 L616.0,361.0 L616.5,361.5 L617.0,361.7 L617.5,361.6 L618.0,362.1 L618.5,362.7 L619.0,362.5 L619.5,362.1 L620.0,361.9 L620.5,362.0 L621.0,362.4 L621.5,363.0 L622.0,363.4 L622.5,362.9 L623.0,362.8 L623.5,363.7 L624.0,364.1 L624.5,364.0 L625.0,364.3 L625.5,364.7 L626.0,364.9 L626.5,364.9 L627.0,364.5 L627.5,364.2 L628.0,364.6 L628.5,364.5 L629.0,363.8 L629.5,363.3 L630.0,362.7 L630.5,362.1 L631.0,361.6 L631.5,361.1 L632.0,361.5 L632.5,362.5 L633.0,363.2 L633.5,363.7 L634.0,364.2 L634.5,364.7 L635.0,365.1 L635.5,365.4 L636.0,365.6 L636.5,365.3 L637.0,365.0 L637.5,365.3 L638.0,365.2 L638.5,364.4 L639.0,364.2 L639.5,364.4 L640.0,364.7 L640.5,365.5 L641.0,365.7 L641.5,365.7 L642.0,365.6 L642.5,365.2 L643.0,365.0 L643.5,365.4 L644.0,365.6 L644.5,365.2 L645.0,365.0 L645.5,365.6 L646.0,365.9 L646.5,365.3 L647.0,364.7 L647.5,364.5 L648.0,364.4 L648.5,364.4 L649.0,364.9 L649.5,365.4 L650.0,365.0 L650.5,364.6 L651.0,364.5 L651.5,364.5 L652.0,365.1 L652.5,365.1 L653.0,364.8 L653.5,364.8 L654.0,365.4 L654.5,366.2 L655.0,366.1 L655.5,365.4 L656.0,365.5 L656.5,365.8 L657.0,365.8 L657.5,366.0 L658.0,365.8 L658.5,365.5 L659.0,366.0 L659.5,366.4 L660.0,366.0 L660.5,365.6 L661.0,365.1 L661.5,364.9 L662.0,364.9 L662.5,364.4 L663.0,364.3 L663.5,364.9 L664.0,365.2 L664.5,365.4 L665.0,365.8 L665.5,366.2 L666.0,366.6 L666.5,366.8 L667.0,366.9 L667.5,367.1 L668.0,367.1 L668.5,366.9 L669.0,366.8 L669.5,366.6 L670.0,366.8 L670.5,367.1 L671.0,366.8 L671.5,365.9 L672.0,365.4 L672.5,365.6 L673.0,365.9" stroke="#f14040"/>
<path d="M95.0,224.6 L95.5,224.6 L96.0,224.3 L96.5,224.1 L97.0,224.3 L97.5,224.6 L98.0,224.7 L98.5,224.7 L99.0,224.8 L99.5,224.8 L100.0,224.9 L100.5,225.4 L101.0,225.8 L101.5,225.9 L102.0,225.7 L102.5,225.5 L103.0,225.3 L103.5,225.4 L104.0,225.7 L104.5,225.6 L105.0,225.5 L105.5,225.9 L106.0,226.3 L106.5,226.1 L107.0,225.7 L107.5,225.8 L108.0,226.0 L108.5,225.9 L109.0,225.7 L109.5,225.9 L110.0,226.4 L110.5,226.4 L111.0,225.8 L111.5,225.5 L112.0,225.3 L112.5,225.1 L113.0,225.2 L113.5,225.6 L114.0,226.0 L114.5,225.7 L115.0,225.5 L115.5,225.7 L116.0,225.5 L116.5,225.2 L117.0,225.3 L117.5,225.4 L118.0,225.4 L118.5,225.3 L119.0,225.1 L119.5,225.4 L120.0,225.9 L120.5,226.0 L121.0,226.1 L121.5,226.1 L122.0,225.9 L122.5,225.5 L123.0,225.3 L123.5,225.1 L124.0,224.9 L124.5,225.0 L125.0,225.6 L125.5,225.8 L126.0,225.7 L126.5,225.7 L127.0,225.4 L127.5,225.3 L128.0,225.2 L128.5,225.1 L129.0,225.5 L129.5,225.6 L130.0,225.3 L130.5,225.2 L131.0,225.4 L131.5,225.6 L132.0,225.5 L132.5,225.4 L133.0,225.3 L133.5,225.0 L134.0,224.9 L134.5,225.0 L135.0,224.8 L135.5,224.9 L136.0,225.0 L136.5,224.8 L137.0,224.9 L137.5,225.1 L138.0,224.8 L138.5,224.2 L139.0,223.8 L139.5,224.0 L140.0,224.3 L140.5,224.3 L141.0,224.3 L141.5,224.5 L142.0,224.4 L142.5,224.5 L143.0,224.5 L143.5,224.2 L144.0,224.4 L144.5,224.9 L145.0,224.6 L145.5,224.0 L146.0,224.1 L146.5,224.4 L147.0,224.5 L147.5,224.2 L148.0,223.8 L148.5,223.8 L149.0,224.0 L149.5,223.9 L150.0,223.6 L150.5,223.5 L151.0,223.6 L151.5,223.5 L152.0,223.4 L152.5,223.4 L153.0,223.5 L153.5,223.2 L154.0,223.1 L154.5,223.1 L155.0,222.9 L155.5,222.7 L156.0,222.4 L156.5,222.1 L157.0,222.4 L157.5,222.5 L158.0,222.3 L158.5,222.2 L159.0,221.9 L159.5,221.8 L160.0,222.1 L160.5,222.4 L161.0,222.2 L161.5,221.9 L162.0,221.8 L162.5,221.6 L163.0,221.6 L163.5,221.7 L164.0,221.4 L164.5,221.0 L165.0,221.1 L165.5,221.4 L166.0,221.6 L166.5,221.6 L167.0,221.4 L167.5,221.4 L168.0,221.4 L168.5,221.3 L169.0,221.4 L169.5,221.2 L170.0,221.0 L170.5,220.9 L171.0,220.7 L171.5,220.7 L172.0,220.8 L172.5,220.6 L173.0,220.4 L173.5,220.3 L174.0,220.4 L174.5,220.3 L175.0,220.1 L175.5,219.9 L176.0,219.7 L176.5,219.8 L177.0,220.1 L177.5,219.6 L178.0,219.2 L178.5,219.3 L179.0,219.1 L179.5,219.0 L180.0,218.9 L180.5,218.5 L181.0,218.1 L181.5,218.0 L182.0,217.7 L182.5,217.3 L183.0,217.1 L183.5,217.2 L184.0,217.2 L184.5,217.1 L185.0,217.0 L185.5,216.5 L186.0,216.0 L186.5,215.6 L187.0,215.2 L187.5,214.9 L188.0,214.8 L188.5,214.8 L189.0,214.6 L189.5,214.2 L190.0,213.7 L190.5,213.4 L191.0,213.3 L191.5,213.1 L192.0,212.7 L192.5,212.4 L193.0,212.4 L193.5,212.2 L194.0,211.6 L194.5,211.3 L195.0,211.2 L195.5,211.2 L196.0,211.1 L196.5,211.1 L197.0,211.2 L197.5,211.2 L198.0,211.1 L198.5,210.8 L199.0,210.6 L199.5,210.5 L200.0,210.7 L200.5,211.0 L201.0,211.0 L201.5,211.1 L202.0,211.0 L202.5,211.0 L203.0,211.2 L203.5,211.1 L204.0,211.1 L204.5,211.0 L205.0,210.9 L205.5,211.0 L206.0,211.2 L206.5,211.5 L207.0,211.6 L207.5,211.2 L208.0,210.7 L208.5,210.7 L209.0,210.7 L209.5,210.5 L210.0,210.3 L210.5,210.0 L211.0,209.6 L211.5,209.5 L212.0,209.5 L212.5,209.1 L213.0,208.6 L213.5,208.4 L214.0,208.1 L214.5,207.9 L215.0,208.0 L215.5,208.4 L216.0,208.2 L216.5,207.9 L217.0,208.0 L217.5,208.1 L218.0,208.0 L218.5,208.0 L219.0,208.0 L219.5,208.2 L220.0,208.3 L220.5,208.4 L221.0,208.8 L221.5,209.3 L222.0,209.6 L222.5,209.9 L223.0,210.0 L223.5,210.4 L224.0,211.0 L224.5,211.0 L225.0,210.9 L225.5,211.1 L226.0,211.1 L226.5,211.2 L227.0,211.5 L227.5,211.4 L228.0,211.2 L228.5,211.4 L229.0,211.3 L229.5,211.3 L230.0,211.4 L230.5,211.5 L231.0,211.7 L231.5,211.7 L232.0,211.4 L232.5,211.3 L233.0,211.0 L233.5,210.6 L234.0,210.5 L234.5,210.5 L235.0,210.5 L235.5,210.4 L236.0,210.3 L236.5,210.2 L237.0,210.5 L237.5,210.6 L238.0,210.0 L238.5,209.7 L239.0,209.8 L239.5,210.1 L240.0,209.9 L240.5,209.3 L241.0,208.9 L241.5,208.8 L242.0,208.6 L242.5,208.6 L243.0,208.7 L243.5,208.7 L244.0,208.9 L244.5,208.8 L245.0,208.2 L245.5,207.9 L246.0,208.0 L246.5,207.9 L247.0,207.4 L247.5,207.0 L248.0,206.9 L248.5,206.7 L249.0,206.4 L249.5,206.3 L250.0,205.9 L250.5,205.5 L251.0,205.0 L251.5,204.8 L252.0,204.4 L252.5,204.0 L253.0,203.8 L253.5,203.6 L254.0,203.4 L254.5,203.4 L255.0,203.6 L255.5,203.4 L256.0,203.1 L256.5,202.8 L257.0,202.1 L257.5,201.6 L258.0,201.6 L258.5,201.6 L259.0,201.2 L259.5,200.8 L260.0,200.2 L260.5,199.5 L261.0,199.1 L261.5,198.5 L262.0,197.5 L262.5,196.5 L263.0,195.7 L263.5,194.9 L264.0,194.0 L264.5,193.0 L265.0,192.0 L265.5,191.0 L266.0,190.1 L266.5,189.2 L267.0,188.0 L267.5,186.7 L268.0,185.4 L268.5,184.2 L269.0,183.1 L269.5,182.0 L270.0,180.7 L270.5,179.4 L271.0,178.0 L271.5,176.7 L272.0,175.4 L272.5,174.3 L273.0,173.3 L273.5,172.6 L274.0,172.1 L274.5,171.5 L275.0,171.1 L275.5,170.6 L276.0,170.1 L276.5,169.8 L277.0,169.8 L277.5,170.0 L278.0,170.5 L278.5,171.2 L279.0,172.1 L279.5,173.1 L280.0,174.0 L280.5,175.0 L281.0,176.2 L281.5,177.5 L282.0,179.0 L282.5,180.4 L283.0,181.7 L283.5,182.6 L284.0,183.0 L284.5,183.4 L285.0,183.9 L285.5,184.1 L286.0,184.0 L286.5,183.7 L287.0,183.1 L287.5,182.3 L288.0,181.6 L288.5,180.8 L289.0,179.9 L289.5,178.9 L290.0,177.8 L290.5,176.4 L291.0,174.7 L291.5,172.8 L292.0,170.7 L292.5,168.4 L293.0,166.1 L293.5,163.8 L294.0,161.2 L294.5,157.7 L295.0,152.9 L295.5,148.3 L296.0,143.9 L296.5,138.9 L297.0,133.1 L297.5,126.7 L298.0,120.0 L298.5,113.3 L299.0,106.2 L299.5,98.3 L300.0,89.4 L300.5,79.8 L301.0,70.0 L301.5,59.8 L302.0,49.2 L302.5,39.0 L303.0,30.0 L303.5,21.7 L304.0,14.7 L304.5,10.8 L305.0,8.3 L305.5,7.5 L306.0,9.1 L306.5,12.0 L307.0,16.4 L307.5,22.9 L308.0,30.0 L308.5,37.6 L309.0,46.0 L309.5,54.9 L310.0,63.6 L310.5,71.5 L311.0,78.9 L311.5,86.1 L312.0,93.0 L312.5,99.9 L313.0,106.7 L313.5,113.2 L314.0,120.0 L314.5,128.0 L315.0,136.0 L315.5,142.3 L316.0,147.3 L316.5,151.7 L317.0,155.6 L317.5,159.5 L318.0,163.3 L318.5,166.8 L319.0,170.0 L319.5,173.0 L320.0,175.8 L320.5,178.4 L321.0,180.9 L321.5,183.1 L322.0,185.0 L322.5,186.8 L323.0,188.5 L323.5,190.0 L324.0,191.4 L324.5,192.8 L325.0,194.2 L325.5,195.5 L326.0,196.5 L326.5,197.4 L327.0,198.4 L327.5,199.4 L328.0,200.4 L328.5,201.2 L329.0,201.9 L329.5,202.5 L330.0,203.2 L330.5,203.8 L331.0,204.4 L331.5,205.1 L332.0,205.8 L332.5,206.4 L333.0,206.9 L333.5,207.2 L334.0,207.5 L334.5,208.0 L335.0,208.5 L335.5,209.1 L336.0,209.6 L336.5,209.9 L337.0,210.0 L337.5,210.3 L338.0,211.0 L338.5,211.3 L339.0,211.4 L339.5,211.8 L340.0,212.1 L340.5,212.3 L341.0,212.6 L341.5,212.6 L342.0,212.7 L342.5,213.1 L343.0,213.2 L343.5,213.2 L344.0,213.3 L344.5,213.4 L345.0,213.8 L345.5,213.9 L346.0,213.9 L346.5,214.2 L347.0,214.5 L347.5,214.6 L348.0,214.7 L348.5,214.9 L349.0,215.0 L349.5,215.0 L350.0,215.1 L350.5,215.2 L351.0,215.4 L351.5,215.8 L352.0,216.0 L352.5,216.2 L353.0,216.1 L353.5,215.6 L354.0,215.4 L354.5,215.8 L355.0,216.1 L355.5,216.1 L356.0,216.2 L356.5,216.2 L357.0,215.9 L357.5,215.9 L358.0,216.6 L358.5,217.1 L359.0,216.8 L359.5,216.6 L360.0,216.9 L360.5,217.3 L361.0,217.4 L361.5,217.3 L362.0,217.4 L362.5,217.7 L363.0,218.2 L363.5,218.6 L364.0,218.8 L364.5,218.4 L365.0,218.3 L365.5,218.5 L366.0,218.6 L366.5,218.7 L367.0,218.6 L367.5,218.4 L368.0,218.2 L368.5,217.8 L369.0,217.2 L369.5,216.9 L370.0,216.8 L370.5,216.9 L371.0,217.2 L371.5,217.7 L372.0,218.0 L372.5,218.1 L373.0,218.1 L373.5,218.2 L374.0,218.7 L374.5,219.0 L375.0,218.7 L375.5,218.8 L376.0,219.1 L376.5,218.9 L377.0,218.7 L377.5,218.5 L378.0,218.3 L378.5,218.3 L379.0,218.2 L379.5,217.7 L380.0,217.4 L380.5,217.6 L381.0,217.7 L381.5,217.7 L382.0,217.4 L382.5,216.9 L383.0,216.7 L383.5,216.9 L384.0,216.8 L384.5,216.6 L385.0,216.6 L385.5,216.7 L386.0,216.6 L386.5,216.3 L387.0,216.1 L387.5,215.9 L388.0,215.8 L388.5,215.9 L389.0,216.1 L389.5,216.0 L390.0,215.4 L390.5,215.0 L391.0,214.7 L391.5,214.4 L392.0,214.3 L392.5,214.5 L393.0,215.0 L393.5,215.4 L394.0,215.5 L394.5,215.7 L395.0,216.3 L395.5,216.6 L396.0,216.7 L396.5,216.7 L397.0,216.7 L397.5,217.1 L398.0,217.5 L398.5,217.6 L399.0,217.5 L399.5,217.6 L400.0,217.9 L400.5,218.1 L401.0,218.0 L401.5,218.1 L402.0,218.5 L402.5,218.7 L403.0,218.7 L403.5,218.8 L404.0,219.0 L404.5,219.0 L405.0,218.6 L405.5,218.3 L406.0,218.3 L406.5,218.4 L407.0,218.7 L407.5,218.7 L408.0,218.4 L408.5,218.3 L409.0,218.3 L409.5,218.5 L410.0,218.5 L410.5,218.4 L411.0,218.2 L411.5,218.1 L412.0,218.4 L412.5,218.8 L413.0,218.7 L413.5,218.3 L414.0,218.1 L414.5,218.2 L415.0,218.7 L415.5,218.7 L416.0,218.3 L416.5,218.1 L417.0,218.4 L417.5,218.3 L418.0,218.3 L418.5,218.7 L419.0,218.8 L419.5,218.6 L420.0,218.9 L420.5,219.3 L421.0,219.3 L421.5,219.3 L422.0,219.6 L422.5,219.3 L423.0,218.9 L423.5,218.9 L424.0,218.8 L424.5,218.7 L425.0,218.6 L425.5,218.5 L426.0,218.5 L426.5,218.5 L427.0,218.5 L427.5,218.2 L428.0,218.1 L428.5,217.9 L429.0,217.6 L429.5,217.6 L430.0,217.9 L430.5,217.9 L431.0,218.3 L431.5,218.6 L432.0,218.2 L432.5,217.9 L433.0,218.0 L433.5,217.9 L434.0,217.8 L434.5,218.0 L435.0,217.9 L435.5,217.5 L436.0,217.8 L436.5,218.3 L437.0,218.5 L437.5,218.7 L438.0,218.9 L438.5,218.9 L439.0,218.7 L439.5,218.6 L440.0,219.1 L440.5,219.4 L441.0,219.1 L441.5,218.7 L442.0,219.0 L442.5,219.6 L443.0,219.4 L443.5,219.1 L444.0,219.2 L444.5,219.3 L445.0,219.1 L445.5,218.8 L446.0,218.7 L446.5,218.9 L447.0,219.1 L447.5,219.0 L448.0,218.9 L448.5,218.8 L449.0,218.6 L449.5,218.6 L450.0,218.6 L450.5,218.7 L451.0,218.6 L451.5,218.4 L452.0,218.5 L452.5,218.7 L453.0,218.9 L453.5,219.0 L454.0,219.0 L454.5,219.0 L455.0,219.4 L455.5,219.6 L456.0,219.4 L456.5,219.6 L457.0,219.6 L457.5,219.1 L458.0,218.9 L458.5,219.1 L459.0,218.9 L459.5,218.7 L460.0,218.7 L460.5,218.4 L461.0,218.1 L461.5,218.0 L462.0,218.2 L462.5,218.3 L463.0,218.2 L463.5,218.0 L464.0,217.8 L464.5,217.6 L465.0,217.7 L465.5,218.0 L466.0,217.7 L466.5,217.1 L467.0,217.4 L467.5,217.8 L468.0,217.7 L468.5,217.8 L469.0,218.0 L469.5,218.2 L470.0,218.6 L470.5,218.8 L471.0,218.7 L471.5,218.6 L472.0,218.4 L472.5,218.3 L473.0,218.6 L473.5,218.6 L474.0,218.6 L474.5,218.6 L475.0,218.2 L475.5,218.1 L476.0,218.3 L476.5,218.8 L477.0,219.0 L477.5,218.7 L478.0,218.4 L478.5,218.5 L479.0,218.5 L479.5,218.2 L480.0,218.3 L480.5,218.7 L481.0,218.9 L481.5,218.8 L482.0,218.8 L482.5,218.8 L483.0,218.6 L483.5,218.4 L484.0,218.3 L484.5,218.3 L485.0,218.6 L485.5,218.8 L486.0,218.6 L486.5,218.2 L487.0,218.1 L487.5,218.0 L488.0,218.0 L488.5,218.0 L489.0,218.0 L489.5,217.8 L490.0,217.6 L490.5,217.7 L491.0,217.6 L491.5,217.3 L492.0,217.3 L492.5,217.4 L493.0,217.2 L493.5,216.9 L494.0,216.9 L494.5,217.1 L495.0,216.9 L495.5,216.8 L496.0,216.8 L496.5,216.7 L497.0,217.0 L497.5,217.2 L498.0,217.0 L498.5,216.7 L499.0,216.2 L499.5,216.3 L500.0,216.7 L500.5,216.6 L501.0,216.5 L501.5,216.7 L502.0,216.4 L502.5,216.2 L503.0,216.1 L503.5,215.9 L504.0,215.7 L504.5,215.7 L505.0,215.9 L505.5,215.5 L506.0,214.7 L506.5,214.6 L507.0,214.9 L507.5,214.9 L508.0,214.8 L508.5,214.7 L509.0,214.5 L509.5,214.7 L510.0,214.9 L510.5,214.8 L511.0,214.9 L511.5,214.9 L512.0,214.9 L512.5,215.0 L513.0,215.3 L513.5,215.4 L514.0,215.5 L514.5,216.0 L515.0,216.5 L515.5,216.6 L516.0,216.6 L516.5,216.6 L517.0,216.6 L517.5,216.7 L518.0,216.9 L518.5,217.1 L519.0,217.3 L519.5,217.5 L520.0,217.2 L520.5,217.1 L521.0,217.5 L521.5,217.9 L522.0,217.8 L522.5,217.7 L523.0,217.6 L523.5,217.6 L524.0,217.9 L524.5,218.3 L525.0,218.6 L525.5,218.5 L526.0,218.6 L526.5,218.8 L527.0,218.3 L527.5,217.9 L528.0,218.3 L528.5,218.7 L529.0,218.8 L529.5,218.7 L530.0,219.0 L530.5,219.2 L531.0,218.8 L531.5,218.4 L532.0,218.5 L532.5,218.9 L533.0,219.3 L533.5,219.4 L534.0,219.5 L534.5,219.6 L535.0,219.4 L535.5,219.3 L536.0,219.0 L536.5,218.9 L537.0,219.1 L537.5,219.1 L538.0,219.4 L538.5,219.7 L539.0,219.4 L539.5,219.0 L540.0,219.0 L540.5,219.3 L541.0,219.1 L541.5,218.9 L542.0,219.0 L542.5,219.1 L543.0,219.1 L543.5,218.7 L544.0,218.6 L544.5,218.9 L545.0,219.0 L545.5,218.8 L546.0,218.7 L546.5,218.8 L547.0,218.9 L547.5,218.8 L548.0,218.3 L548.5,218.1 L549.0,218.2 L549.5,218.2 L550.0,218.1 L550.5,217.6 L551.0,217.3 L551.5,217.7 L552.0,218.0 L552.5,218.0 L553.0,218.0 L553.5,217.7 L554.0,217.4 L554.5,217.4 L555.0,217.3 L555.5,217.3 L556.0,217.1 L556.5,216.9 L557.0,216.8 L557.5,216.5 L558.0,216.2 L558.5,216.0 L559.0,215.9 L559.5,216.2 L560.0,216.6 L560.5,216.6 L561.0,216.2 L561.5,215.6 L562.0,215.6 L562.5,215.8 L563.0,215.6 L563.5,215.3 L564.0,215.0 L564.5,215.0 L565.0,215.1 L565.5,214.9 L566.0,214.4 L566.5,213.8 L567.0,213.4 L567.5,213.1 L568.0,212.6 L568.5,212.1 L569.0,211.6 L569.5,211.3 L570.0,211.2 L570.5,211.0 L571.0,210.5 L571.5,210.3 L572.0,210.2 L572.5,210.0 L573.0,210.2 L573.5,210.0 L574.0,209.6 L574.5,209.6 L575.0,209.4 L575.5,209.0 L576.0,208.8 L576.5,208.8 L577.0,208.7 L577.5,208.7 L578.0,208.4 L578.5,208.1 L579.0,208.4 L579.5,208.9 L580.0,209.3 L580.5,209.5 L581.0,209.8 L581.5,210.2 L582.0,210.7 L582.5,210.9 L583.0,210.9 L583.5,211.2 L584.0,211.6 L584.5,211.6 L585.0,211.8 L585.5,212.0 L586.0,212.3 L586.5,212.6 L587.0,212.9 L587.5,213.4 L588.0,213.6 L588.5,213.8 L589.0,214.2 L589.5,214.5 L590.0,215.0 L590.5,215.4 L591.0,215.5 L591.5,215.8 L592.0,216.2 L592.5,216.3 L593.0,216.5 L593.5,217.0 L594.0,217.3 L594.5,217.2 L595.0,217.4 L595.5,217.5 L596.0,217.3 L596.5,217.4 L597.0,217.4 L597.5,217.8 L598.0,218.6 L598.5,218.9 L599.0,219.0 L599.5,219.0 L600.0,219.0 L600.5,219.0 L601.0,219.0 L601.5,219.2 L602.0,219.6 L602.5,219.8 L603.0,219.7 L603.5,219.7 L604.0,219.7 L604.5,219.6 L605.0,219.7 L605.5,219.9 L606.0,220.0 L606.5,219.9 L607.0,220.1 L607.5,220.4 L608.0,220.4 L608.5,220.3 L609.0,220.4 L609.5,220.5 L610.0,220.7 L610.5,220.8 L611.0,221.0 L611.5,221.1 L612.0,220.8 L612.5,220.6 L613.0,221.2 L613.5,221.4 L614.0,220.9 L614.5,220.5 L615.0,220.5 L615.5,220.8 L616.0,221.1 L616.5,221.1 L617.0,220.8 L617.5,221.0 L618.0,221.4 L618.5,221.2 L619.0,221.2 L619.5,221.4 L620.0,221.4 L620.5,221.4 L621.0,221.5 L621.5,221.5 L622.0,221.7 L622.5,221.9 L623.0,221.8 L623.5,221.7 L624.0,221.8 L624.5,221.9 L625.0,221.8 L625.5,221.7 L626.0,221.2 L626.5,221.2 L627.0,221.6 L627.5,222.1 L628.0,222.0 L628.5,221.6 L629.0,221.9 L629.5,222.3 L630.0,222.2 L630.5,221.9 L631.0,221.5 L631.5,221.5 L632.0,222.2 L632.5,222.6 L633.0,222.2 L633.5,222.0 L634.0,222.0 L634.5,222.1 L635.0,222.0 L635.5,221.6 L636.0,221.4 L636.5,221.7 L637.0,222.2 L637.5,222.2 L638.0,222.0 L638.5,222.0 L639.0,222.0 L639.5,221.8 L640.0,221.5 L640.5,221.3 L641.0,221.7 L641.5,222.1 L642.0,221.9 L642.5,221.9 L643.0,222.0 L643.5,221.8 L644.0,221.9 L644.5,222.1 L645.0,222.3 L645.5,222.4 L646.0,222.3 L646.5,222.3 L647.0,222.6 L647.5,222.5 L648.0,222.3 L648.5,222.2 L649.0,222.3 L649.5,222.5 L650.0,222.4 L650.5,222.7 L651.0,223.1 L651.5,223.0 L652.0,222.5 L652.5,222.3 L653.0,222.4 L653.5,222.8 L654.0,222.8 L654.5,222.9 L655.0,223.1 L655.5,222.6 L656.0,222.3 L656.5,222.5 L657.0,222.6 L657.5,222.7 L658.0,222.6 L658.5,222.8 L659.0,222.8 L659.5,222.3 L660.0,222.0 L660.5,222.4 L661.0,222.4 L661.5,222.3 L662.0,222.3 L662.5,222.1 L663.0,222.2 L663.5,222.4 L664.0,222.5 L664.5,222.5 L665.0,222.4 L665.5,222.3 L666.0,222.3 L666.5,222.5 L667.0,222.7 L667.5,222.5 L668.0,222.3 L668.5,222.6 L669.0,222.9 L669.5,223.1 L670.0,223.0 L670.5,222.7 L671.0,222.9 L671.5,223.2 L672.0,222.9 L672.5,222.7 L673.0,223.0" stroke="#1a6fdf"/>
</g>
<g stroke="#000" fill="none">
<line x1="95" y1="0" x2="95" y2="472.8" stroke-width="4"/>
<line x1="93" y1="470.8" x2="676" y2="470.8" stroke-width="4"/>
<line x1="674" y1="0" x2="674" y2="480.6" stroke-width="4.2"/>
<line x1="90.4" y1="1.8" x2="676" y2="1.8" stroke-width="4"/>
<line x1="86" y1="467.7" x2="94" y2="467.7" stroke-width="4.2"/>
<line x1="90.4" y1="436.6" x2="94" y2="436.6" stroke-width="4.2"/>
<line x1="86" y1="405.6" x2="94" y2="405.6" stroke-width="4.2"/>
<line x1="90.4" y1="374.5" x2="94" y2="374.5" stroke-width="4.2"/>
<line x1="86" y1="343.5" x2="94" y2="343.5" stroke-width="4.2"/>
<line x1="90.4" y1="312.4" x2="94" y2="312.4" stroke-width="4.2"/>
<line x1="86" y1="281.4" x2="94" y2="281.4" stroke-width="4.2"/>
<line x1="90.4" y1="250.3" x2="94" y2="250.3" stroke-width="4.2"/>
<line x1="86" y1="219.3" x2="94" y2="219.3" stroke-width="4.2"/>
<line x1="90.4" y1="188.2" x2="94" y2="188.2" stroke-width="4.2"/>
<line x1="86" y1="157.2" x2="94" y2="157.2" stroke-width="4.2"/>
<line x1="90.4" y1="126.1" x2="94" y2="126.1" stroke-width="4.2"/>
<line x1="86" y1="95.1" x2="94" y2="95.1" stroke-width="4.2"/>
<line x1="90.4" y1="64.0" x2="94" y2="64.0" stroke-width="4.2"/>
<line x1="86" y1="33.0" x2="94" y2="33.0" stroke-width="4.2"/>
<line x1="133.7" y1="472" x2="133.7" y2="475.4" stroke-width="4.4"/>
<line x1="182.8" y1="472" x2="182.8" y2="480.6" stroke-width="4.4"/>
<line x1="231.9" y1="472" x2="231.9" y2="475.4" stroke-width="4.4"/>
<line x1="281.0" y1="472" x2="281.0" y2="480.6" stroke-width="4.4"/>
<line x1="330.1" y1="472" x2="330.1" y2="475.4" stroke-width="4.4"/>
<line x1="379.2" y1="472" x2="379.2" y2="480.6" stroke-width="4.4"/>
<line x1="428.3" y1="472" x2="428.3" y2="475.4" stroke-width="4.4"/>
<line x1="477.4" y1="472" x2="477.4" y2="480.6" stroke-width="4.4"/>
<line x1="526.5" y1="472" x2="526.5" y2="475.4" stroke-width="4.4"/>
<line x1="575.6" y1="472" x2="575.6" y2="480.6" stroke-width="4.4"/>
<line x1="624.7" y1="472" x2="624.7" y2="475.4" stroke-width="4.4"/>
<line x1="435.9" y1="0" x2="435.9" y2="93.6" stroke-width="3.5"/>
<line x1="434.2" y1="92.1" x2="676" y2="92.1" stroke-width="3.5"/>
<line x1="437.5" y1="18.7" x2="490.2" y2="18.7" stroke-width="3.7" stroke-linecap="round"/>
<line x1="439" y1="47.9" x2="490.2" y2="47.9" stroke-width="3.7" stroke="#f14040" stroke-linecap="round"/>
<line x1="439" y1="77.1" x2="490.2" y2="77.1" stroke-width="3.7" stroke="#1a6fdf" stroke-linecap="round"/>
</g>
<text transform="translate(79.4,473.9) scale(0.975,1)" font-size="20.2" text-anchor="end">0</text>
<text transform="translate(79.4,411.8) scale(0.975,1)" font-size="20.2" text-anchor="end">2000</text>
<text transform="translate(79.4,349.7) scale(0.975,1)" font-size="20.2" text-anchor="end">4000</text>
<text transform="translate(79.4,287.6) scale(0.975,1)" font-size="20.2" text-anchor="end">6000</text>
<text transform="translate(79.4,225.5) scale(0.975,1)" font-size="20.2" text-anchor="end">8000</text>
<text transform="translate(79.4,163.4) scale(0.975,1)" font-size="20.2" text-anchor="end">10000</text>
<text transform="translate(79.4,101.3) scale(0.975,1)" font-size="20.2" text-anchor="end">12000</text>
<text transform="translate(79.4,39.2) scale(0.975,1)" font-size="20.2" text-anchor="end">14000</text>
<text transform="translate(183.5,503.9) scale(0.888,1)" font-size="24" stroke="#000" stroke-width="0.35" text-anchor="middle">10</text>
<text transform="translate(281.7,503.9) scale(0.888,1)" font-size="24" stroke="#000" stroke-width="0.35" text-anchor="middle">20</text>
<text transform="translate(379.9,503.9) scale(0.888,1)" font-size="24" stroke="#000" stroke-width="0.35" text-anchor="middle">30</text>
<text transform="translate(478.1,503.9) scale(0.888,1)" font-size="24" stroke="#000" stroke-width="0.35" text-anchor="middle">40</text>
<text transform="translate(576.3,503.9) scale(0.888,1)" font-size="24" stroke="#000" stroke-width="0.35" text-anchor="middle">50</text>
<text transform="translate(674.5,503.9) scale(0.888,1)" font-size="24" stroke="#000" stroke-width="0.35" text-anchor="middle">60</text>
<text transform="translate(259.6,538.2) scale(1.0365,1)" font-size="23.4">Diffraction angle 2θ(°)</text>
<text transform="translate(18,399.9) rotate(-90)" font-size="24.3">Relative intensity (au)</text>
<text x="496" y="26.5" font-size="23.1">(a) CELL</text>
<text x="496" y="55.6" font-size="23.1">(b) CELL-Cl</text>
<text x="496" y="84.8" font-size="23.1">(c) CELL@HBH</text>
<text transform="translate(487,204.3) scale(1.015,1)" font-size="28">(c)</text>
<text transform="translate(476,340.9) scale(1.02,1)" font-size="27.4">(b)</text>
<text transform="translate(473.4,442.8) scale(1.02,1)" font-size="28">(a)</text>
</svg></body></html>
